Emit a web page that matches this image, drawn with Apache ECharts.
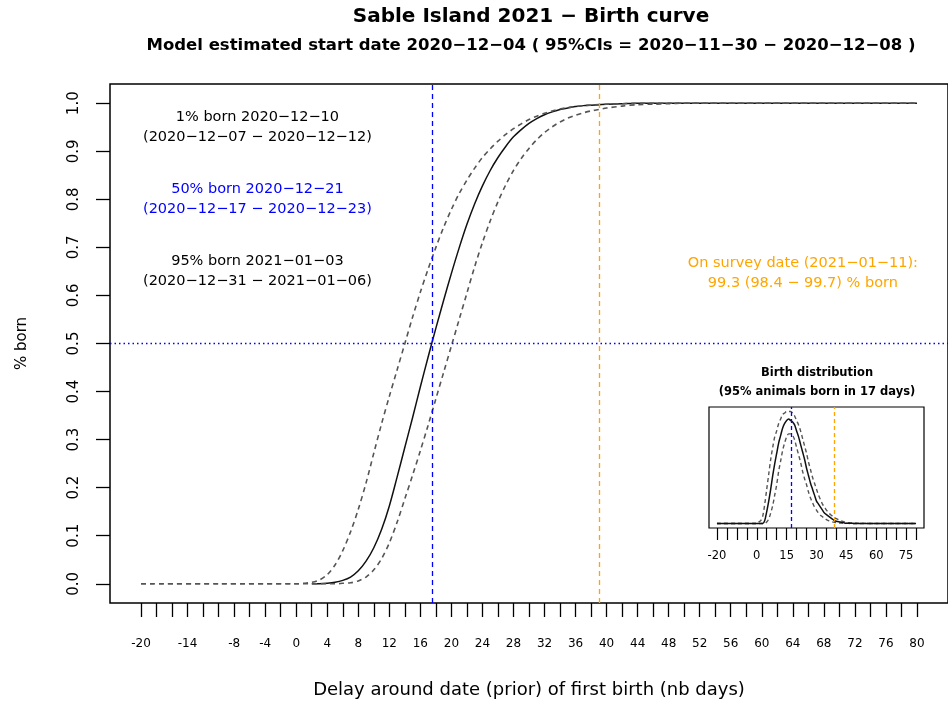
<!DOCTYPE html>
<html>
<head>
<meta charset="utf-8">
<title>Sable Island 2021 - Birth curve</title>
<script src="https://cdn.jsdelivr.net/npm/echarts@6.0.0/dist/echarts.min.js"></script>
<style>
  html, body { margin: 0; padding: 0; background: #fff; }
  #main { width: 948px; height: 707px; }
</style>
</head>
<body>
<div id="main"></div>
<script>
// days around the prior date of first birth
const days = [-20, -10,
  0, 1, 2, 3, 4, 5, 6, 7, 8, 9,
  10, 11, 12, 13, 14, 15, 16, 17, 18, 19,
  20, 21, 22, 23, 24, 25, 26, 27, 28, 29,
  30, 31, 32, 33, 34, 35, 36, 37, 38, 39,
  40,
  42, 44, 46, 48, 50,
  60, 70, 80];

// cumulative proportion born (estimate + 95% CI bounds)
const cumMid = [null, null,
  null, null, 0, 0, 0.001, 0.003, 0.007, 0.014, 0.027, 0.047,
  0.075, 0.113, 0.162, 0.222, 0.284, 0.346, 0.41, 0.472, 0.532, 0.59,
  0.646, 0.699, 0.748, 0.791, 0.828, 0.86, 0.887, 0.91, 0.93, 0.945,
  0.958, 0.968, 0.976, 0.982, 0.987, 0.99, 0.993, 0.995, 0.996, 0.997,
  0.998,
  0.999, 1, 1, 1, 1,
  1, 1, 1];
const cumEarly = [0, 0,
  0, 0.001, 0.003, 0.008, 0.019, 0.039, 0.069, 0.108, 0.155, 0.21,
  0.272, 0.333, 0.39, 0.445, 0.50, 0.555, 0.607, 0.655, 0.70, 0.742,
  0.779, 0.812, 0.84, 0.865, 0.887, 0.905, 0.921, 0.935, 0.947, 0.957,
  0.966, 0.973, 0.979, 0.984, 0.988, 0.991, 0.993, 0.995, 0.996, 0.997,
  0.998,
  0.999, 1, 1, 1, 1,
  1, 1, 1];
const cumLate = [0, 0,
  0, 0, 0, 0, 0, 0, 0.001, 0.002, 0.006, 0.014,
  0.029, 0.052, 0.085, 0.128, 0.177, 0.226, 0.277, 0.33, 0.385, 0.44,
  0.495, 0.55, 0.605, 0.66, 0.71, 0.755, 0.795, 0.83, 0.86, 0.885,
  0.906, 0.924, 0.939, 0.951, 0.961, 0.969, 0.975, 0.98, 0.984, 0.987,
  0.99,
  0.994, 0.997, 0.998, 0.999, 1,
  1, 1, 1];

// birth density per day (inset)
const densMid = [0, 0,
  0, 0, 0, 0, 0.002, 0.008, 0.015, 0.023, 0.032, 0.040,
  0.047, 0.054, 0.059, 0.064, 0.067, 0.069, 0.070, 0.069, 0.068, 0.066,
  0.062, 0.058, 0.053, 0.048, 0.043, 0.037, 0.032, 0.027, 0.023, 0.019,
  0.015, 0.013, 0.011, 0.009, 0.007, 0.006, 0.005, 0.004, 0.003, 0.002,
  0.0015,
  0.001, 0.0004, 0.0002, 0.0001, 0,
  0, 0, 0];
const densHigh = [0, 0,
  0, 0.001, 0.002, 0.005, 0.013, 0.023, 0.033, 0.043, 0.051, 0.058,
  0.062, 0.067, 0.070, 0.073, 0.074, 0.075, 0.075, 0.075, 0.074, 0.072,
  0.069, 0.066, 0.062, 0.057, 0.052, 0.047, 0.041, 0.036, 0.031, 0.027,
  0.023, 0.019, 0.016, 0.013, 0.011, 0.009, 0.0075, 0.006, 0.005, 0.004,
  0.0032,
  0.002, 0.0011, 0.0006, 0.0003, 0.0002,
  0, 0, 0];
const densLow = [0, 0,
  0, 0, 0, 0, 0, 0.001, 0.003, 0.007, 0.012, 0.019,
  0.026, 0.035, 0.042, 0.049, 0.054, 0.058, 0.060, 0.060, 0.059, 0.056,
  0.051, 0.046, 0.041, 0.035, 0.030, 0.026, 0.021, 0.017, 0.014, 0.011,
  0.009, 0.007, 0.0056, 0.0045, 0.0034, 0.0026, 0.002, 0.0015, 0.0011, 0.0008,
  0.0006,
  0.0003, 0.00015, 0.0001, 0, 0,
  0, 0, 0];

const medianDay = 17.5;
const surveyDay = 39;

// tick marks and labels
const xTicks = [-20, -18, -16, -14, -12, -10, -8, -6, -4, -2, 0, 2, 4, 6, 8, 10, 12, 14, 16, 18,
  20, 22, 24, 26, 28, 30, 32, 34, 36, 38, 40, 42, 44, 46, 48, 50, 52, 54, 56, 58,
  60, 62, 64, 66, 68, 70, 72, 74, 76, 78, 80];
const xLabels = [-20, -14, -8, -4, 0, 4, 8, 12, 16, 20, 24, 28, 32, 36, 40, 44, 48, 52,
  56, 60, 64, 68, 72, 76, 80];
const yTicks = [0, 0.1, 0.2, 0.3, 0.4, 0.5, 0.6, 0.7, 0.8, 0.9, 1.0];
const insetTicks = [-20, -15, -10, -5, 0, 5, 10, 15, 20, 25, 30, 35, 40, 45, 50, 55, 60, 65, 70, 75, 80];
const insetLabels = [-20, 0, 15, 30, 45, 60, 75];

const notes = [
  {x: -5, y: 0.95, text: '1% born 2020\u221212\u221210\n(2020\u221212\u221207 \u2212 2020\u221212\u221212)', color: '#000000'},
  {x: -5, y: 0.80, text: '50% born 2020\u221212\u221221\n(2020\u221212\u221217 \u2212 2020\u221212\u221223)', color: '#0000ff'},
  {x: -5, y: 0.65, text: '95% born 2021\u221201\u221203\n(2020\u221212\u221231 \u2212 2021\u221201\u221206)', color: '#000000'},
  {x: 65.3, y: 0.647, text: 'On survey date (2021\u221201\u221211):\n99.3 (98.4 \u2212 99.7) % born', color: '#ffa500'}
];

const FONT = 'DejaVu Sans';
const GREY = '#555555';

function pairs(ys) {
    return days.map(function (d, i) { return [d, ys[i]]; });
}

var chart = echarts.init(document.getElementById('main'));

chart.setOption({
    animation: false,
    backgroundColor: '#ffffff',
    grid: [
        {left: 110, top: 84, right: -4, bottom: 104, show: true, borderColor: '#000', borderWidth: 1.5},
        {left: 709, top: 407, width: 215, height: 121, show: true, borderColor: '#000', borderWidth: 1.2}
    ],
    xAxis: [
        {
            type: 'value', gridIndex: 0, min: -24, max: 84,
            splitLine: {show: false},
            axisLine: {show: false, onZero: false},
            axisTick: {show: true, length: 14, lineStyle: {color: '#000', width: 1.3}, customValues: xTicks},
            axisLabel: {customValues: xLabels, margin: 35, fontSize: 12, color: '#000', fontFamily: FONT},
            name: 'Delay around date (prior) of first birth (nb days)',
            nameLocation: 'middle', nameGap: 78,
            nameTextStyle: {fontSize: 18, color: '#000', fontFamily: FONT}
        },
        {
            type: 'value', gridIndex: 1, min: -24, max: 84,
            splitLine: {show: false},
            axisLine: {show: false, onZero: false},
            axisTick: {show: true, length: 12, lineStyle: {color: '#000', width: 1.2}, customValues: insetTicks},
            axisLabel: {customValues: insetLabels, margin: 22, fontSize: 11.5, color: '#000', fontFamily: FONT}
        }
    ],
    yAxis: [
        {
            type: 'value', gridIndex: 0, min: -0.04, max: 1.04,
            splitLine: {show: false},
            axisLine: {show: false, onZero: false},
            axisTick: {show: true, length: 14, lineStyle: {color: '#000', width: 1.3}, customValues: yTicks},
            axisLabel: {
                customValues: yTicks, rotate: 90, margin: 28, fontSize: 15, color: '#000', fontFamily: FONT,
                formatter: function (v) { return v.toFixed(1); }
            },
            name: '% born', nameLocation: 'middle', nameGap: 80,
            nameTextStyle: {fontSize: 15, color: '#000', fontFamily: FONT}
        },
        {
            type: 'value', gridIndex: 1, min: -0.003, max: 0.078, show: false,
            axisLine: {onZero: false}
        }
    ],
    series: [
        {
            name: 'estimate', type: 'line', xAxisIndex: 0, yAxisIndex: 0,
            data: pairs(cumMid), showSymbol: false, symbol: 'none', smooth: 0.3,
            lineStyle: {color: '#111', width: 1.5},
            markLine: {
                silent: true, symbol: ['none', 'none'], label: {show: false},
                data: [
                    {xAxis: medianDay, lineStyle: {color: '#0000ff', type: [5, 4], width: 1.3}},
                    {xAxis: surveyDay, lineStyle: {color: '#ffa500', type: [5, 4], width: 1.3}},
                    {yAxis: 0.5, lineStyle: {color: '#0000ff', type: [1.5, 3], width: 1.4}}
                ]
            }
        },
        {
            name: 'early', type: 'line', xAxisIndex: 0, yAxisIndex: 0,
            data: pairs(cumEarly), showSymbol: false, symbol: 'none', smooth: 0.3,
            lineStyle: {color: GREY, width: 1.6, type: [5, 4]}
        },
        {
            name: 'late', type: 'line', xAxisIndex: 0, yAxisIndex: 0,
            data: pairs(cumLate), showSymbol: false, symbol: 'none', smooth: 0.3,
            lineStyle: {color: GREY, width: 1.6, type: [5, 4]}
        },
        {
            name: 'dens high', type: 'line', xAxisIndex: 1, yAxisIndex: 1,
            data: pairs(densHigh), showSymbol: false, symbol: 'none', smooth: 0.3,
            lineStyle: {color: GREY, width: 1.4, type: [4, 3]}
        },
        {
            name: 'dens low', type: 'line', xAxisIndex: 1, yAxisIndex: 1,
            data: pairs(densLow), showSymbol: false, symbol: 'none', smooth: 0.3,
            lineStyle: {color: GREY, width: 1.4, type: [4, 3]}
        },
        {
            name: 'dens', type: 'line', xAxisIndex: 1, yAxisIndex: 1,
            data: pairs(densMid), showSymbol: false, symbol: 'none', smooth: 0.3,
            lineStyle: {color: '#111', width: 1.5},
            markLine: {
                silent: true, symbol: ['none', 'none'], label: {show: false},
                data: [
                    {xAxis: medianDay, lineStyle: {color: '#0000ff', type: [4, 3], width: 1.3}},
                    {xAxis: surveyDay, lineStyle: {color: '#ffa500', type: [4, 3], width: 1.3}}
                ]
            }
        }
    ]
});

// titles and text annotations
var graphics = [
    {type: 'text', x: 531, y: 17, style: {text: 'Sable Island 2021 \u2212 Birth curve', align: 'center', verticalAlign: 'middle',
        fontSize: 20, fontWeight: 'bold', fontFamily: FONT, fill: '#000'}},
    {type: 'text', x: 531, y: 46, style: {text: 'Model estimated start date 2020\u221212\u221204 ( 95%CIs = 2020\u221211\u221230 \u2212 2020\u221212\u221208 )',
        align: 'center', verticalAlign: 'middle', fontSize: 16.5, fontWeight: 'bold', fontFamily: FONT, fill: '#000'}},
    {type: 'text', x: 817, y: 383, style: {text: 'Birth distribution\n(95% animals born in 17 days)', align: 'center', verticalAlign: 'middle',
        fontSize: 11.5, lineHeight: 19, fontWeight: 'bold', fontFamily: FONT, fill: '#000'}}
];
notes.forEach(function (n) {
    var p = chart.convertToPixel({gridIndex: 0}, [n.x, n.y]);
    graphics.push({type: 'text', x: p[0], y: p[1], style: {text: n.text, align: 'center', verticalAlign: 'middle',
        fontSize: 14.5, lineHeight: 20, fontFamily: FONT, fill: n.color}});
});
chart.setOption({graphic: graphics});
</script>
</body>
</html>
